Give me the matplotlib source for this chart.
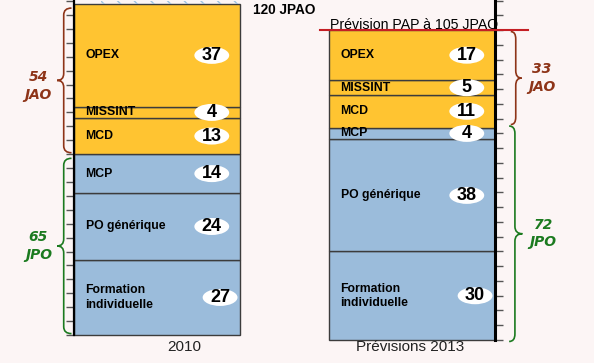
import matplotlib.pyplot as plt
import numpy as np
from matplotlib.path import Path
from matplotlib.patches import PathPatch, Ellipse
from matplotlib.transforms import blended_transform_factory

plt.rcParams['font.family'] = ['Liberation Sans', 'DejaVu Sans']

# stacks from bottom to top
categories = ["Formation\nindividuelle", "PO générique", "MCP", "MCD", "MISSINT", "OPEX"]
values_2010 = [27, 24, 14, 13, 4, 37]
values_2013 = [30, 38, 4, 11, 5, 17]
groups = ["JPO", "JPO", "JPO", "JAO", "JAO", "JAO"]
bar_labels = ["2010", "Prévisions 2013"]
total_max = 120
pap_target = 105

bg = "#fcf5f5"
orange = "#ffc431"
blue = "#9bbcdb"
brown = "#8e3418"
green = "#1b7a1f"
colors = [blue if g == "JPO" else orange for g in groups]

fig = plt.figure(figsize=(5.94, 3.63), dpi=100, facecolor=bg)
W, H = 594, 363
ax1 = fig.add_axes([74 / W, 1 - 335 / H, 166 / W, 335 / H])
ax2 = fig.add_axes([329 / W, 1 - 340 / H, 166 / W, 340 / H])
ax1.set_ylim(0, 120.4)
ax2.set_ylim(0, 115.2)


def brace(ax, y0, y1, x_arm, x_mid, x_tip, color, r=2.5):
    tr = blended_transform_factory(ax.transAxes, ax.transData)
    yc = (y0 + y1) / 2
    verts = [(x_arm, y1), (x_mid, y1), (x_mid, y1 - r),
             (x_mid, yc + r), (x_mid, yc), (x_tip, yc),
             (x_mid, yc), (x_mid, yc - r),
             (x_mid, y0 + r), (x_mid, y0), (x_arm, y0)]
    codes = [Path.MOVETO, Path.CURVE3, Path.CURVE3, Path.LINETO,
             Path.CURVE3, Path.CURVE3, Path.CURVE3, Path.CURVE3,
             Path.LINETO, Path.CURVE3, Path.CURVE3]
    ax.add_patch(PathPatch(Path(verts, codes), transform=tr, fill=False,
                           edgecolor=color, lw=1.2, clip_on=False))
    return yc


def group_text(ax, x, y, s, color):
    ax.text(x, y, s, transform=blended_transform_factory(ax.transAxes, ax.transData),
            ha="center", va="center", fontsize=10, fontweight="bold", style="oblique",
            family="DejaVu Sans", color=color, linespacing=1.3)


def draw_stack(ax, values, ypx, num_x):
    bottom = 0
    for i, (cat, v, c) in enumerate(zip(categories, values, colors)):
        ax.bar(0.5, v, width=1, bottom=bottom, color=c, edgecolor="#3c3c3c",
               linewidth=1.0, clip_on=False)
        mid = bottom + v / 2
        ax.text(0.07, mid, cat, ha="left", va="center", fontsize=8.8,
                fontweight="bold", linespacing=1.25)
        nx = num_x + 0.05 if i == 0 else num_x
        ax.add_patch(Ellipse((nx, mid), 0.21, 17 / ypx, facecolor="white",
                             edgecolor="none", zorder=3))
        ax.text(nx, mid, str(v), ha="center", va="center", fontsize=13,
                fontweight="bold", zorder=4)
        bottom += v
    ax.set_xlim(0, 1)
    ax.set_facecolor("none")
    for s in ["top", "bottom", "left", "right"]:
        ax.spines[s].set_visible(False)
    ax.set_xticks([])


draw_stack(ax1, values_2010, 335 / 120.4, 0.83)
draw_stack(ax2, values_2013, 340 / 115.2, 0.83)

# hatched remainder up to 120 JPAO
ax1.bar(0.58, total_max - sum(values_2010), width=0.84, bottom=sum(values_2010),
        fill=False, hatch="\\\\", edgecolor="#9fc3e0", linewidth=0)

ax1.spines["left"].set_visible(True)
ax1.spines["left"].set_linewidth(1.6)
ax1.set_yticks(np.arange(0, total_max + 1, 5))
ax1.set_yticklabels([])
ax1.tick_params(axis="y", length=6, width=1, color="#555555")

ax2.spines["right"].set_visible(True)
ax2.spines["right"].set_linewidth(2.2)
ax2.yaxis.tick_right()
ax2.set_yticks(np.arange(0, 116, 5))
ax2.set_yticklabels([])
ax2.tick_params(axis="y", length=6, width=1, color="#555555")

# braces
jpo10 = sum(v for v, g in zip(values_2010, groups) if g == "JPO")
jao10 = sum(v for v, g in zip(values_2010, groups) if g == "JAO")
jpo13 = sum(v for v, g in zip(values_2013, groups) if g == "JPO")
jao13 = sum(v for v, g in zip(values_2013, groups) if g == "JAO")

yc = brace(ax1, jpo10 + 0.5, jpo10 + jao10 - 1.5, -0.015, -0.062, -0.102, brown)
group_text(ax1, -0.215, yc - 2, f"{jao10}\nJAO", brown)
yc = brace(ax1, 0.5, jpo10 - 1.5, -0.015, -0.062, -0.102, green)
group_text(ax1, -0.215, yc, f"{jpo10}\nJPO", green)

yc = brace(ax2, jpo13 + 1, jpo13 + jao13 - 0.5, 1.095, 1.125, 1.16, brown)
group_text(ax2, 1.28, yc, f"{jao13}\nJAO", brown)
yc = brace(ax2, -0.5, jpo13 + 0.5, 1.085, 1.12, 1.165, green)
group_text(ax2, 1.29, yc, f"{jpo13}\nJPO", green)

# PAP line
ax2.plot([-0.054, 1.2], [pap_target, pap_target], color="#c41e24", lw=1.5, clip_on=False, zorder=5)
ax2.annotate(f"Prévision PAP à {pap_target} JPAO", xy=(0.51, pap_target), xytext=(0, 1),
             textcoords="offset points", ha="center", va="baseline", fontsize=10.2,
             annotation_clip=False)

fig.text(284 / W, 1 - 10 / H, f"{total_max} JPAO", ha="center", va="center",
         fontsize=9.8, fontweight="bold")
fig.text(184 / W, 1 - 347 / H, bar_labels[0], ha="center", va="center", fontsize=11, color="#222222")
fig.text(410 / W, 1 - 347 / H, bar_labels[1], ha="center", va="center", fontsize=11, color="#222222")

fig.savefig("out.png", dpi=100, facecolor=bg)
